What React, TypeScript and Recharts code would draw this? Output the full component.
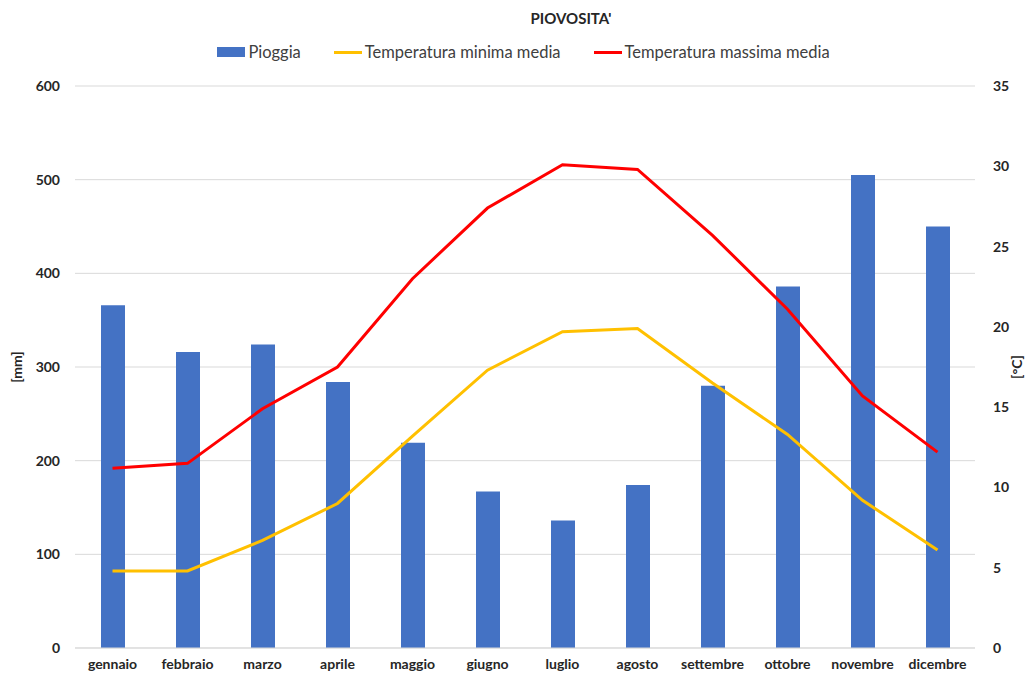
import {
  Bar,
  CartesianGrid,
  ComposedChart,
  Legend,
  Line,
  XAxis,
  YAxis,
} from 'recharts'

const months = [
  'gennaio', 'febbraio', 'marzo', 'aprile', 'maggio', 'giugno',
  'luglio', 'agosto', 'settembre', 'ottobre', 'novembre', 'dicembre',
]
const pioggia = [366, 316, 324, 284, 219, 167, 136, 174, 280, 386, 505, 450]
const tempMin = [4.8, 4.8, 6.7, 9.0, 13.2, 17.3, 19.7, 19.9, 16.5, 13.3, 9.2, 6.1]
const tempMax = [11.2, 11.5, 14.9, 17.5, 23.0, 27.4, 30.1, 29.8, 25.7, 21.1, 15.7, 12.2]
const mmTicks = [0, 100, 200, 300, 400, 500, 600]
const tempTicks = [0, 5, 10, 15, 20, 25, 30, 35]

const data = months.map((month, i) => ({
  month,
  pioggia: pioggia[i],
  tmin: tempMin[i],
  tmax: tempMax[i],
}))

const FONT = 'Lato, "Open Sans", sans-serif'
const tickStyle = { fontSize: 14, fontWeight: 700, fill: '#262626', fontFamily: FONT }

function LegendContent() {
  const items = [
    { label: 'Pioggia', color: '#4472C4', kind: 'box' },
    { label: 'Temperatura minima media', color: '#FFC000', kind: 'line' },
    { label: 'Temperatura massima media', color: '#FF0000', kind: 'line' },
  ]
  return (
    <div style={{ display: 'flex', justifyContent: 'center', gap: 33, height: 20, alignItems: 'center', paddingLeft: 11, fontFamily: FONT, fontSize: 16.5, color: '#404040' }}>
      {items.map((it) => (
        <div key={it.label} style={{ display: 'flex', alignItems: 'center' }}>
          {it.kind === 'box' ? (
            <span style={{ width: 28, height: 10, background: it.color, marginRight: 3 }} />
          ) : (
            <span style={{ width: 28, height: 3, background: it.color, marginRight: 3 }} />
          )}
          <span>{it.label}</span>
        </div>
      ))}
    </div>
  )
}

function App() {
  return (
    <div style={{ position: 'absolute', left: 0, top: 0, width: 1036, height: 677, background: '#fff' }}>
      <div style={{ position: 'absolute', top: 9, left: 471, width: 200, textAlign: 'center', fontFamily: FONT, fontSize: 15, fontWeight: 700, color: '#262626' }}>
        PIOVOSITA'
      </div>
      <ComposedChart width={1036} height={677} data={data} margin={{ top: 66, right: 0, left: 0, bottom: 0 }}>
        <CartesianGrid yAxisId="left" vertical={false} stroke="#d9d9d9" />
        <XAxis
          dataKey="month"
          height={29}
          axisLine={{ stroke: '#d9d9d9' }}
          tickLine={false}
          tick={tickStyle}
          tickMargin={5}
          interval={0}
        />
        <YAxis
          yAxisId="left"
          width={75}
          domain={[0, 600]}
          ticks={mmTicks}
          axisLine={false}
          tickLine={false}
          tick={tickStyle}
          tickMargin={9}
          label={{
            value: '[mm]',
            content: ({ viewBox }: any) => (
              <text x={22} y={viewBox.y + viewBox.height / 2} transform={`rotate(-90, 22, ${viewBox.y + viewBox.height / 2})`} textAnchor="middle" style={{ ...tickStyle, fontSize: 14 }}>
                [mm]
              </text>
            ),
          }}
        />
        <YAxis
          yAxisId="right"
          orientation="right"
          width={61}
          domain={[0, 35]}
          ticks={tempTicks}
          axisLine={false}
          tickLine={false}
          tick={tickStyle}
          tickMargin={12}
          label={{
            value: '[°C]',
            content: ({ viewBox }: any) => (
              <text x={1022} y={viewBox.y + viewBox.height / 2} transform={`rotate(-90, 1022, ${viewBox.y + viewBox.height / 2})`} textAnchor="middle" style={{ ...tickStyle, fontSize: 14 }}>
                [°C]
              </text>
            ),
          }}
        />
        <Legend verticalAlign="top" content={LegendContent} wrapperStyle={{ top: 42, left: 0, width: 1036 }} />
        <Bar yAxisId="left" dataKey="pioggia" name="Pioggia" fill="#4472C4" barSize={24} isAnimationActive={false} />
        <Line yAxisId="right" dataKey="tmin" name="Temperatura minima media" type="linear" stroke="#FFC000" strokeWidth={3} dot={false} isAnimationActive={false} />
        <Line yAxisId="right" dataKey="tmax" name="Temperatura massima media" type="linear" stroke="#FF0000" strokeWidth={3} dot={false} isAnimationActive={false} />
      </ComposedChart>
    </div>
  )
}

export default App
